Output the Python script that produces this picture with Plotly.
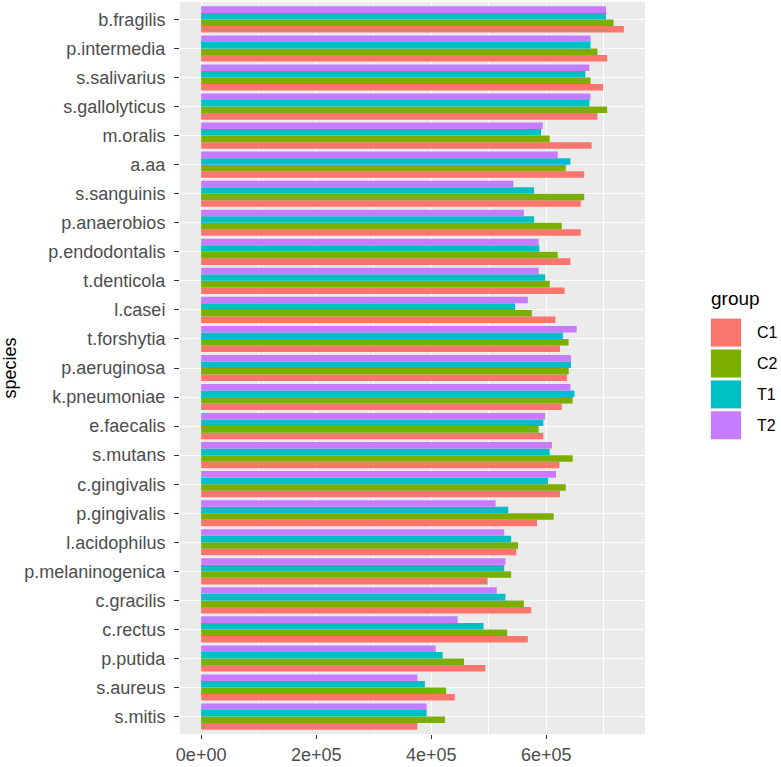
import plotly.graph_objects as go

species = ["b.fragilis", "p.intermedia", "s.salivarius", "s.gallolyticus", "m.oralis",
           "a.aa", "s.sanguinis", "p.anaerobios", "p.endodontalis", "t.denticola",
           "l.casei", "t.forshytia", "p.aeruginosa", "k.pneumoniae", "e.faecalis",
           "s.mutans", "c.gingivalis", "p.gingivalis", "l.acidophilus", "p.melaninogenica",
           "c.gracilis", "c.rectus", "p.putida", "s.aureus", "s.mitis"]

C1 = [7.35, 7.06, 6.99, 6.89, 6.79, 6.66, 6.60, 6.60, 6.42, 6.32, 6.16, 6.24, 6.36,
      6.27, 5.95, 6.23, 6.24, 5.84, 5.48, 4.98, 5.74, 5.68, 4.94, 4.41, 3.76]
C2 = [7.17, 6.89, 6.77, 7.06, 6.06, 6.34, 6.66, 6.27, 6.20, 6.06, 5.75, 6.39, 6.39,
      6.46, 5.87, 6.46, 6.34, 6.13, 5.51, 5.39, 5.61, 5.32, 4.57, 4.26, 4.24]
T1 = [7.04, 6.77, 6.68, 6.75, 5.91, 6.42, 5.79, 5.79, 5.88, 5.98, 5.46, 6.29, 6.43,
      6.49, 5.95, 6.06, 6.03, 5.34, 5.39, 5.27, 5.29, 4.91, 4.20, 3.89, 3.92]
T2 = [7.04, 6.77, 6.75, 6.77, 5.94, 6.20, 5.43, 5.61, 5.87, 5.87, 5.68, 6.53, 6.43,
      6.42, 5.98, 6.10, 6.17, 5.12, 5.27, 5.29, 5.14, 4.46, 4.08, 3.76, 3.92]
SCALE = 1e5

groups = ["C1", "C2", "T1", "T2"]
series = [C1, C2, T1, T2]
colors = ["#F8766D", "#7CAE00", "#00BFC4", "#C77CFF"]

tick_vals = [0, 2e5, 4e5, 6e5]
tick_text = ["0e+00", "2e+05", "4e+05", "6e+05"]
minor_vals = [1e5, 3e5, 5e5, 7e5]

W, H = 781, 767
L, R, T, B = 180, 136, 2, 30

fig = go.Figure()
for g, vals, c in zip(groups, series, colors):
    fig.add_trace(go.Bar(
        y=species, x=[v * SCALE for v in vals], name=g, orientation="h",
        marker=dict(color=c, line=dict(width=0)), showlegend=False,
    ))

xmax = max(max(s) for s in series) * SCALE
fig.update_layout(
    width=W, height=H,
    margin=dict(l=L, r=R, t=T, b=B),
    paper_bgcolor="white", plot_bgcolor="#EBEBEB",
    barmode="group", bargap=0.1, bargroupgap=0,
    font=dict(family="Liberation Sans, Arial, sans-serif", color="#4D4D4D"),
    xaxis=dict(
        range=[-0.05 * xmax, 1.05 * xmax],
        tickvals=tick_vals, ticktext=tick_text,
        showgrid=True, gridcolor="white", gridwidth=1.3,
        ticks="outside", ticklen=4, tickwidth=1, tickcolor="#333333",
        tickfont=dict(size=18, color="#4D4D4D"),
        zeroline=False, showline=False,
        minor=dict(tickvals=minor_vals, showgrid=True, gridcolor="white", gridwidth=0.6, ticks=""),
    ),
    yaxis=dict(
        categoryorder="array", categoryarray=species[::-1],
        range=[-0.6, len(species) - 0.4],
        showgrid=True, gridcolor="white", gridwidth=1.3,
        ticks="outside", ticklen=5, tickwidth=1, tickcolor="#333333",
        tickfont=dict(size=18, color="#4D4D4D"),
        ticklabelstandoff=5,
        zeroline=False, showline=False,
        title=dict(text="species", font=dict(size=18, color="black"), standoff=8),
    ),
)

# ggplot-like legend drawn in pixel space
pw = W - L - R
ph = H - T - B
def px(x):
    return (x - L) / pw
def py(y):
    return (H - B - y) / ph

fig.add_annotation(x=px(709), y=py(300), xref="paper", yref="paper", text="group",
                   showarrow=False, xanchor="left", yanchor="middle",
                   font=dict(size=19, color="black"))
for i, (g, c) in enumerate(zip(groups, colors)):
    top = 319 + i * 31
    fig.add_shape(type="rect", xref="paper", yref="paper",
                  x0=px(710), x1=px(742), y0=py(top + 30), y1=py(top),
                  fillcolor="#F2F2F2", line=dict(width=0))
    fig.add_shape(type="rect", xref="paper", yref="paper",
                  x0=px(711), x1=px(741), y0=py(top + 29), y1=py(top + 1),
                  fillcolor=c, line=dict(width=0))
    fig.add_annotation(x=px(755), y=py(top + 15), xref="paper", yref="paper", text=g,
                       showarrow=False, xanchor="left", yanchor="middle",
                       font=dict(size=16, color="black"))

fig.write_html("out.html")
